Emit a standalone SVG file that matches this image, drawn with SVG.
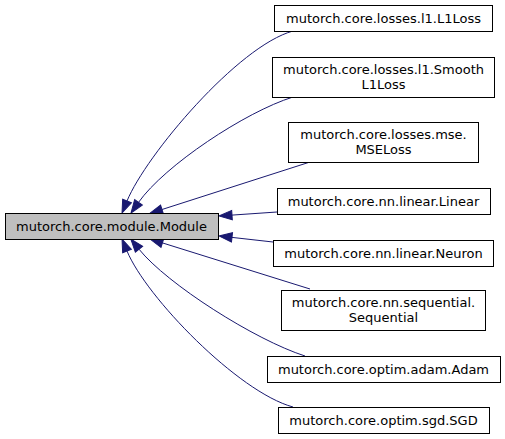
<svg xmlns="http://www.w3.org/2000/svg" width="505" height="439" viewBox="0 0 505 439">
<style>
.node rect{fill:#ffffff;stroke:#000000;stroke-width:1}
#module rect{fill:#bfbfbf}
text{font-family:"DejaVu Sans","Liberation Sans",sans-serif;font-size:13px;fill:#000000;text-anchor:middle}
.edge{fill:none;stroke:#191970;stroke-width:1;marker-end:url(#ah)}
</style>
<defs>
<marker id="ah" markerWidth="14" markerHeight="10" refX="0" refY="5" orient="auto" markerUnits="userSpaceOnUse" overflow="visible">
<path d="M0,0.3 L13,5 L0,9.7 Z" fill="#191970" stroke="#191970" stroke-width="1"/>
</marker>
</defs>
<rect width="505" height="439" fill="#ffffff"/>
<g id="edges">
<path class="edge" d="M293,31 C238,46 146,155 127,201"/>
<path class="edge" d="M293,97 C245,112 164.5,165.6 138.5,202.4"/>
<path class="edge" d="M310,162 L162,209.5"/>
<path class="edge" d="M277,212 L232,215.1"/>
<path class="edge" d="M273,242 L232,237.4"/>
<path class="edge" d="M310,289 L162.4,242.9"/>
<path class="edge" d="M305,356 C255,340 167,284 139,249.2"/>
<path class="edge" d="M293,407 C238,392 146,297 127,251"/>
</g>
<g id="module" class="node">
<rect x="5.5" y="213.5" width="213" height="26"/>
<text x="111.5" y="231">mutorch.core.module.Module</text>
</g>
<g id="l1loss" class="node">
<rect x="274.5" y="5.5" width="218" height="26"/>
<text x="383.5" y="23">mutorch.core.losses.l1.L1Loss</text>
</g>
<g id="smoothl1loss" class="node">
<rect x="272.5" y="57.5" width="222" height="40"/>
<text x="383.5" y="74">mutorch.core.losses.l1.Smooth</text>
<text x="383.5" y="88.5">L1Loss</text>
</g>
<g id="mseloss" class="node">
<rect x="288.5" y="122.5" width="190" height="40"/>
<text x="383.5" y="139">mutorch.core.losses.mse.</text>
<text x="383.5" y="153.5">MSELoss</text>
</g>
<g id="linear" class="node">
<rect x="277.5" y="188.5" width="213" height="26"/>
<text x="383.5" y="206">mutorch.core.nn.linear.Linear</text>
</g>
<g id="neuron" class="node">
<rect x="273.5" y="240.5" width="220" height="26"/>
<text x="383.5" y="258">mutorch.core.nn.linear.Neuron</text>
</g>
<g id="sequential" class="node">
<rect x="281.5" y="290.5" width="204" height="40"/>
<text x="383.5" y="307">mutorch.core.nn.sequential.</text>
<text x="383.5" y="321.5">Sequential</text>
</g>
<g id="adam" class="node">
<rect x="267.5" y="356.5" width="233" height="26"/>
<text x="383.5" y="374">mutorch.core.optim.adam.Adam</text>
</g>
<g id="sgd" class="node">
<rect x="278.5" y="407.5" width="211" height="26"/>
<text x="383.5" y="425">mutorch.core.optim.sgd.SGD</text>
</g>
</svg>
